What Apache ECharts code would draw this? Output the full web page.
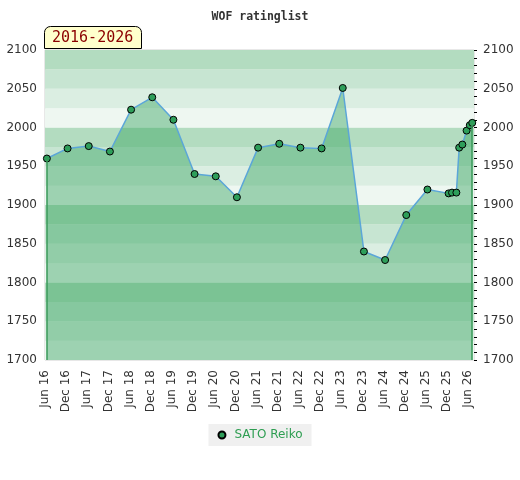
<!DOCTYPE html>
<html>
<head>
<meta charset="utf-8">
<script src="https://cdn.jsdelivr.net/npm/echarts@6/dist/echarts.min.js"></script>
<style>
html, body { margin: 0; padding: 0; background: #fff; }
#main { width: 520px; height: 480px; }
</style>
</head>
<body>
<div id="main"></div>
<script>
// rating list dates and ratings
var dates = [
    '2016-06-17', '2016-12-13', '2017-06-13', '2017-12-13', '2018-06-13',
    '2018-12-13', '2019-06-13', '2019-12-13', '2020-06-13', '2020-12-13',
    '2021-06-13', '2021-12-13', '2022-06-13', '2022-12-13', '2023-06-13',
    '2023-12-13', '2024-06-13', '2024-12-13', '2025-06-13', '2025-12-13',
    '2026-01-12', '2026-02-19', '2026-03-13', '2026-04-10', '2026-05-16',
    '2026-06-13', '2026-07-04'
];
var ratings = [
    1960, 1973, 1976, 1969, 2023,
    2039, 2010, 1940, 1937, 1910,
    1974, 1979, 1974, 1973, 2051,
    1840, 1829, 1887, 1920, 1915,
    1916, 1916, 1974, 1978, 1996,
    2003, 2006
];
var tickNames = ['Jun', 'Dec'];
var axisStart = '2016-06-01';
var axisEnd = '2026-07-19';
var yMin = 1700, yMax = 2100;
var bandColors = ['#eef7f1', '#dbeee2', '#c7e5d2', '#b3dcc0'];

// months since June 2016
function toMonths(s) {
    var p = s.split('-');
    return (parseInt(p[0], 10) - 2016) * 12 + (parseInt(p[1], 10) - 6) + (parseInt(p[2], 10) - 1) / 30;
}

var points = [];
for (var i = 0; i < dates.length; i++) {
    points.push([toMonths(dates[i]), ratings[i]]);
}
var first = points[0], last = points[points.length - 1];

var chart = echarts.init(document.getElementById('main'));

var labelFont = { fontFamily: 'DejaVu Sans', fontSize: 12, color: '#333' };
function plain(v) { return String(v); }

chart.setOption({
    animation: false,
    title: [{
        text: 'WOF ratinglist',
        left: 'center',
        top: 6,
        textStyle: { fontFamily: 'DejaVu Sans Mono', fontSize: 11.5, fontWeight: 'bold', color: '#333' }
    }, {
        text: '2016-2026',
        left: 44,
        top: 26,
        padding: [5, 8, 3, 8],
        backgroundColor: '#ffffcc',
        borderColor: '#000',
        borderWidth: 1,
        borderRadius: [6, 6, 0, 0],
        textStyle: { fontFamily: 'DejaVu Sans Mono', fontSize: 15, fontWeight: 'normal', color: '#8b0000' }
    }],
    legend: {
        bottom: 34,
        left: 'center',
        backgroundColor: '#f0f0f0',
        padding: [5, 9, 5, 9],
        icon: 'circle',
        itemWidth: 7,
        itemHeight: 7,
        itemGap: 8,
        textStyle: { fontFamily: 'DejaVu Sans', fontSize: 12, color: '#2e9e52', padding: [0, 0, 0, 4] }
    },
    grid: {
        left: 45, right: 46, top: 50, bottom: 120,
        show: true,
        borderColor: '#d0d0d0',
        borderWidth: 1,
        backgroundColor: 'transparent'
    },
    xAxis: {
        type: 'value',
        min: toMonths(axisStart),
        max: toMonths(axisEnd),
        interval: 6,
        axisLine: { show: false },
        axisTick: { show: false },
        splitLine: { show: false },
        axisLabel: Object.assign({
            rotate: 90,
            margin: 10,
            showMaxLabel: false,
            formatter: function (v) {
                if (Math.abs(v - Math.round(v)) > 1e-6 || Math.round(v) % 6 !== 0) return '';
                var m = Math.round(v);
                var yr = 16 + Math.floor(m / 12);
                return tickNames[(m / 6) % 2] + ' ' + yr;
            }
        }, labelFont)
    },
    yAxis: [{
        type: 'value',
        position: 'left',
        min: yMin, max: yMax, interval: 50,
        axisLine: { show: false },
        axisTick: { show: false },
        splitLine: { show: false },
        axisLabel: Object.assign({ margin: 8, formatter: plain }, labelFont)
    }, {
        type: 'value',
        position: 'right',
        min: yMin, max: yMax, interval: 50,
        axisLine: { show: false },
        axisTick: { show: true, length: 3, lineStyle: { color: '#000' } },
        minorTick: { show: true, splitNumber: 5, length: 3, lineStyle: { color: '#000' } },
        splitLine: { show: false },
        axisLabel: Object.assign({ margin: 9, formatter: plain }, labelFont)
    }, {
        type: 'value',
        position: 'left',
        min: yMin, max: yMax, interval: 25,
        axisLine: { show: false },
        axisTick: { show: false },
        axisLabel: { show: false },
        splitLine: { show: false },
        splitArea: { show: true, areaStyle: { color: bandColors } }
    }],
    series: [{
        name: 'SATO Reiko',
        type: 'line',
        yAxisIndex: 0,
        data: points,
        symbol: 'circle',
        symbolSize: 7,
        z: 3,
        lineStyle: { color: '#5ba6d8', width: 1.5 },
        itemStyle: { color: '#2e9e5a', borderColor: '#000', borderWidth: 1 },
        areaStyle: { color: 'rgba(46,160,87,0.42)', opacity: 1, origin: 'start' },
        markLine: {
            silent: true,
            symbol: 'none',
            label: { show: false },
            lineStyle: { color: '#3a9a5a', width: 1.5, type: 'solid' },
            data: [
                [{ coord: [first[0], first[1]] }, { coord: [first[0], yMin] }],
                [{ coord: [last[0], last[1]] }, { coord: [last[0], yMin] }]
            ]
        }
    }]
});
</script>
</body>
</html>
